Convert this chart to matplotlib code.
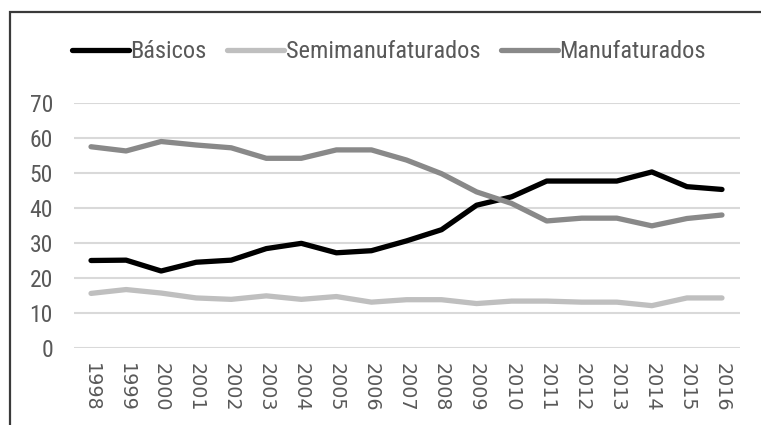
import matplotlib
matplotlib.use("Agg")
import matplotlib.pyplot as plt
from matplotlib.patches import Rectangle

years = [str(y) for y in range(1998, 2017)]
basicos = [25.0, 25.1, 22.0, 24.5, 25.1, 28.4, 29.9, 27.2, 27.8, 30.6, 33.8, 40.8, 43.2, 47.7, 47.7, 47.7, 50.3, 46.1, 45.3]
semimanuf = [15.6, 16.7, 15.7, 14.3, 13.9, 14.9, 13.9, 14.7, 13.1, 13.8, 13.8, 12.7, 13.4, 13.4, 13.1, 13.1, 12.1, 14.3, 14.3]
manuf = [57.5, 56.3, 59.0, 58.0, 57.2, 54.2, 54.2, 56.6, 56.6, 53.7, 49.8, 44.6, 41.3, 36.3, 37.1, 37.1, 34.9, 37.0, 38.0]
series_names = ["Básicos", "Semimanufaturados", "Manufaturados"]
colors = ["#000000", "#BFBFBF", "#898989"]
yticks = [0, 10, 20, 30, 40, 50, 60, 70]

W, H = 761, 425
fig = plt.figure(figsize=(W / 100, H / 100), dpi=100)
narrow = ["Roboto Condensed", "Open Sans Condensed", "Roboto", "DejaVu Sans"]
txtcol = "#595959"

# outer chart frame (partially cropped)
fig.patches.append(Rectangle((9.5 / W, -0.1), 1.2, 1 - 12 / H + 0.1, transform=fig.transFigure,
                             fill=False, edgecolor="#3A3A3A", linewidth=1.6, zorder=0))

ax = fig.add_axes([73.5 / W, (H - 348) / H, 666 / W, 245 / H])
x = list(range(len(years)))
for vals, name, c in zip([basicos, semimanuf, manuf], series_names, colors):
    ax.plot(x, vals, color=c, linewidth=3.8, label=name, solid_capstyle="round",
            solid_joinstyle="round", zorder=3)

ax.set_xlim(-0.5, len(years) - 0.5)
ax.set_ylim(0, 70)
ax.set_yticks(yticks)
ax.set_yticklabels([str(v) for v in yticks], family=narrow, fontsize=17, color=txtcol)
ax.set_xticks(x)
ax.set_xticklabels(years, rotation=-90, family="DejaVu Sans", fontsize=13.8, color=txtcol)
ax.tick_params(axis="y", length=0, pad=14.8)
ax.tick_params(axis="x", length=0, pad=10.8)
ax.grid(axis="y", color="#D9D9D9", linewidth=1.5, zorder=0)
ax.set_axisbelow(True)
for s in ax.spines.values():
    s.set_visible(False)

leg = fig.legend(loc="center left", bbox_to_anchor=(72 / W, 1 - 52 / H), ncol=3, frameon=False,
                 prop={"family": narrow, "size": 17.6}, handlelength=2.33, handletextpad=0.05,
                 columnspacing=0.86, borderpad=0, borderaxespad=0)
for t in leg.get_texts():
    t.set_color(txtcol)
for l in leg.get_lines():
    l.set_linewidth(3.8)
    l.set_solid_capstyle("round")

fig.savefig("out.png", dpi=100)
